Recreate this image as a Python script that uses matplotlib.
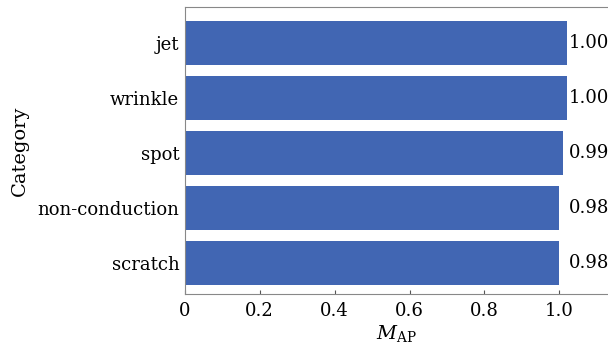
import matplotlib
matplotlib.use("Agg")
import matplotlib.pyplot as plt

categories = ["scratch", "non-conduction", "spot", "wrinkle", "jet"]
bar_lengths = [1.00, 1.00, 1.01, 1.02, 1.02]
value_labels = ["0.98", "0.98", "0.99", "1.00", "1.00"]
xticks = [0, 0.2, 0.4, 0.6, 0.8, 1.0]
xtick_labels = ["0", "0.2", "0.4", "0.6", "0.8", "1.0"]

plt.rcParams["font.family"] = ["DejaVu Serif"]
plt.rcParams["mathtext.fontset"] = "dejavuserif"

fig = plt.figure(figsize=(6.08, 3.5), dpi=100)
ax = fig.add_axes([0.304, 0.16, 0.696, 0.82])

y = range(len(categories))
ax.barh(y, bar_lengths, height=0.8, color="#4166b3")

# value labels all sit in one column just right of the longest bar
label_x = max(bar_lengths) + 0.006
for yi, lab in zip(y, value_labels):
    ax.text(label_x, yi, lab, va="center", ha="left", fontsize=13)

ax.set_xlim(0, 1.13)
ax.set_ylim(-0.56, 4.65)
ax.set_yticks(list(y))
ax.set_yticklabels(categories, fontsize=13)
ax.set_xticks(xticks)
ax.set_xticklabels(xtick_labels, fontsize=13)
ax.tick_params(axis="y", length=0, pad=4)
ax.tick_params(axis="x", direction="in", length=3, color="#555555", pad=6)

for side in ["left", "bottom", "top"]:
    ax.spines[side].set_color("#888888")
ax.spines["right"].set_visible(False)

ax.set_xlabel(r"$M_{\mathrm{AP}}$", fontsize=14, labelpad=2)
ax.set_ylabel("Category", fontsize=14, labelpad=6)

fig.savefig("out.png", dpi=100)
